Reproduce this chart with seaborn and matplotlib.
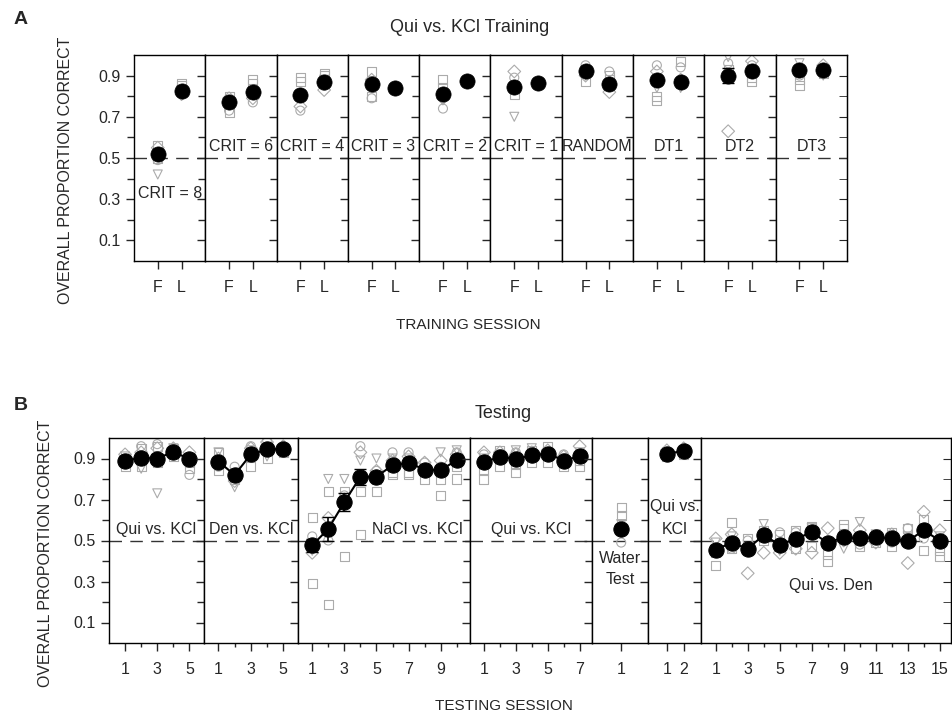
import numpy as np
import pandas as pd
import matplotlib
matplotlib.use("Agg")
import matplotlib.pyplot as plt
import seaborn as sns
from matplotlib.ticker import FixedLocator

# ---------------- Panel A: Qui vs. KCl training ----------------
A_labels = ["CRIT = 8", "CRIT = 6", "CRIT = 4", "CRIT = 3", "CRIT = 2",
            "CRIT = 1", "RANDOM", "DT1", "DT2", "DT3"]
A_ticks = ["F", "L"]
# mean proportion correct, pairs (F, L) per training stage
A_mean = [0.52, 0.825, 0.77, 0.82, 0.805, 0.87, 0.86, 0.84, 0.81, 0.875,
          0.845, 0.865, 0.92, 0.86, 0.88, 0.87, 0.90, 0.92, 0.925, 0.925]
A_err = [0.01, 0.01, 0.01, 0.01, 0.01, 0.01, 0.01, 0.0, 0.01, 0.0,
         0.01, 0.0, 0.01, 0.01, 0.01, 0.01, 0.035, 0.01, 0.01, 0.01]
nan = np.nan
# individual animals
A_sq = [0.56, 0.86, 0.80, 0.88, 0.89, 0.90, 0.92, nan, 0.88, nan,
        0.85, nan, 0.87, 0.90, 0.78, 0.86, 0.93, 0.87, 0.85, 0.91]
A_sq2 = [0.50, 0.85, 0.72, 0.86, 0.87, 0.91, 0.80, nan, 0.84, nan,
         0.81, nan, 0.93, 0.88, 0.80, 0.97, 0.89, 0.89, 0.88, 0.92]
A_di = [0.55, 0.81, 0.79, 0.79, 0.75, 0.83, 0.88, nan, 0.79, nan,
        0.92, nan, 0.90, 0.82, 0.92, 0.88, 0.63, 0.97, 0.93, 0.95]
A_tri = [0.42, 0.83, 0.77, 0.82, 0.80, 0.88, 0.84, nan, 0.78, nan,
         0.70, nan, 0.90, 0.85, 0.84, 0.84, 0.99, 0.93, 0.96, 0.90]
A_cir = [0.49, 0.82, 0.73, 0.77, 0.73, 0.85, 0.79, nan, 0.74, nan,
         0.89, nan, 0.95, 0.92, 0.95, 0.94, 0.96, 0.95, 0.90, 0.93]

# ---------------- Panel B: testing ----------------
B_labels = ["Qui vs. KCl", "Den vs. KCl", "NaCl vs. KCl", "Qui vs. KCl",
            "Water\nTest", "Qui vs.\nKCl", "Qui vs. Den"]
B_sessions = [5, 5, 10, 7, 1, 2, 15]
B_mean = [0.89, 0.903, 0.90, 0.933, 0.897,
          0.885, 0.82, 0.92, 0.944, 0.947,
          0.476, 0.557, 0.687, 0.811, 0.811, 0.867, 0.879, 0.846, 0.843, 0.892,
          0.882, 0.908, 0.898, 0.915, 0.924, 0.89, 0.911,
          0.555,
          0.924, 0.936,
          0.456, 0.489, 0.46, 0.526, 0.479, 0.508, 0.54, 0.489, 0.516, 0.511,
          0.516, 0.511, 0.497, 0.55, 0.499]
B_err = [0.015, 0.015, 0.02, 0.015, 0.015,
         0.015, 0.02, 0.015, 0.01, 0.01,
         0.03, 0.06, 0.045, 0.04, 0.02, 0.015, 0.015, 0.015, 0.02, 0.015,
         0.01, 0.01, 0.01, 0.01, 0.01, 0.01, 0.01,
         0.02,
         0.01, 0.01,
         0.02, 0.015, 0.02, 0.02, 0.015, 0.015, 0.02, 0.015, 0.015, 0.015,
         0.01, 0.01, 0.02, 0.02, 0.015]
B_sq = [0.86, 0.86, 0.88, 0.91, 0.85,
        0.84, 0.80, 0.86, 0.90, 0.93,
        0.29, 0.19, 0.42, 0.53, 0.74, 0.82, 0.82, 0.80, 0.72, 0.80,
        0.80, 0.86, 0.83, 0.88, 0.88, 0.86, 0.86,
        0.66,
        0.91, 0.92,
        0.38, 0.59, 0.45, 0.50, 0.47, 0.55, 0.57, 0.43, 0.56, 0.47,
        0.49, 0.47, 0.56, 0.45, 0.42]
B_sq2 = [0.90, 0.95, 0.96, 0.95, 0.88,
         0.93, 0.83, 0.93, 0.96, 0.95,
         0.61, 0.74, 0.74, 0.74, 0.80, 0.83, 0.83, 0.85, 0.80, 0.86,
         0.84, 0.94, 0.87, 0.94, 0.96, 0.88, 0.89,
         0.62,
         0.92, 0.93,
         0.44, 0.46, 0.51, 0.55, 0.53, 0.46, 0.47, 0.40, 0.58, 0.50,
         0.52, 0.54, 0.50, 0.60, 0.45]
B_di = [0.92, 0.93, 0.95, 0.95, 0.93,
        0.90, 0.79, 0.95, 0.98, 0.96,
        0.44, 0.61, 0.70, 0.93, 0.84, 0.89, 0.91, 0.88, 0.89, 0.92,
        0.93, 0.93, 0.92, 0.93, 0.94, 0.91, 0.96,
        0.57,
        0.94, 0.95,
        0.51, 0.53, 0.34, 0.44, 0.44, 0.46, 0.44, 0.56, 0.50, 0.55,
        0.49, 0.53, 0.39, 0.64, 0.55]
B_tri = [0.91, 0.85, 0.73, 0.95, 0.90,
         0.93, 0.76, 0.94, 0.91, 0.94,
         0.45, 0.80, 0.80, 0.89, 0.90, 0.90, 0.90, 0.85, 0.93, 0.94,
         0.90, 0.92, 0.94, 0.95, 0.93, 0.90, 0.93,
         0.58,
         0.93, 0.94,
         0.49, 0.52, 0.46, 0.58, 0.45, 0.49, 0.56, 0.49, 0.46, 0.59,
         0.53, 0.50, 0.52, 0.56, 0.52]
B_cir = [0.88, 0.96, 0.97, 0.94, 0.82,
         0.86, 0.86, 0.96, 0.99, 0.95,
         0.52, 0.50, 0.72, 0.96, 0.84, 0.93, 0.93, 0.88, 0.86, 0.93,
         0.92, 0.90, 0.93, 0.90, 0.92, 0.92, 0.92,
         0.49,
         0.91, 0.93,
         0.46, 0.46, 0.50, 0.54, 0.54, 0.54, 0.54, 0.50, 0.51, 0.48,
         0.52, 0.49, 0.56, 0.51, 0.51]

subjects = {"sq": ("s", A_sq, B_sq), "sq2": ("s", A_sq2, B_sq2),
            "di": ("D", A_di, B_di), "tri": ("v", A_tri, B_tri),
            "cir": ("o", A_cir, B_cir)}

sns.set_style("ticks")
plt.rcParams["font.family"] = ["Liberation Sans", "DejaVu Sans"]
plt.rcParams["font.size"] = 11.5

GRAY = "#ababab"
FS = 11.5


def style_segment(ax, first, last):
    ax.set_ylim(0, 1)
    ax.yaxis.set_major_locator(FixedLocator([0.1, 0.3, 0.5, 0.7, 0.9]))
    ax.yaxis.set_minor_locator(FixedLocator([0.2, 0.4, 0.6, 0.8]))
    ax.tick_params(axis="y", which="major", direction="out", length=6, width=1,
                   labelleft=first, labelsize=FS)
    ax.tick_params(axis="y", which="minor", direction="out", length=5, width=1)
    ax.tick_params(axis="x", which="major", direction="out", length=6, width=1,
                   labelsize=FS, pad=8)
    ax.tick_params(axis="x", which="minor", direction="out", length=3, width=1)
    for s in ax.spines.values():
        s.set_linewidth(1.0)
        s.set_color("black")
    ax.set_ylabel("")
    ax.set_xlabel("")
    # chance line
    ax.axhline(0.5, color="#333333", lw=1.0, ls=(0, (9, 6)), zorder=1)
    if last:
        sec = ax.secondary_yaxis("right")
        sec.yaxis.set_major_locator(FixedLocator([0.1, 0.3, 0.5, 0.7, 0.9]))
        sec.yaxis.set_minor_locator(FixedLocator([0.2, 0.4, 0.6, 0.8]))
        sec.tick_params(axis="y", which="both", direction="in", length=6,
                        labelright=False)


def draw_individuals(ax, x, idx, panel):
    for name, (m, a_vals, b_vals) in subjects.items():
        vals = a_vals if panel == "A" else b_vals
        y = [vals[i] for i in idx]
        df = pd.DataFrame({"x": x, "y": y}).dropna()
        if df.empty:
            continue
        sns.scatterplot(data=df, x="x", y="y", marker=m, s=42, ax=ax,
                        color=GRAY, linewidth=0.8, zorder=2)
        pts = ax.collections[-1]
        pts.set_facecolor("none")
        pts.set_edgecolor(GRAY)


fig = plt.figure(figsize=(9.52, 7.15), dpi=100)

# ---- panel A ----
gsA = fig.add_gridspec(1, len(A_labels), left=134 / 952, right=847 / 952,
                       top=1 - 55 / 715, bottom=1 - 261 / 715, wspace=0)
for k, lab in enumerate(A_labels):
    ax = fig.add_subplot(gsA[0, k])
    idx = [2 * k, 2 * k + 1]
    xs = [1, 2]
    draw_individuals(ax, xs, idx, "A")
    means = [A_mean[i] for i in idx]
    errs = [A_err[i] for i in idx]
    ax.errorbar(xs, means, yerr=errs, fmt="none", ecolor="black",
                elinewidth=1.2, capsize=4, zorder=3)
    sns.scatterplot(x=xs, y=means, ax=ax, color="black", s=120,
                    edgecolor="black", linewidth=0.5, zorder=4)
    ax.set_xlim(0, 3)
    ax.xaxis.set_major_locator(FixedLocator([1, 2]))
    ax.set_xticklabels(A_ticks)
    style_segment(ax, k == 0, k == len(A_labels) - 1)
    if k == 0:
        ax.text(0.05, 0.33, lab, fontsize=FS, ha="left", va="center",
                transform=ax.get_yaxis_transform(), zorder=5)
    else:
        ax.text(0.5, 0.555, lab, fontsize=FS, ha="center", va="center",
                transform=ax.get_yaxis_transform(), zorder=5)

# ---- panel B ----
B_xlim = [(0, 5.9), (0.1, 5.9), (0.1, 10.8), (0.1, 7.8), (-0.8, 2.7),
          (-0.1, 3.05), (0.1, 15.7)]
B_width = [95, 94, 172, 123, 56, 53, 250]
gsB = fig.add_gridspec(1, len(B_labels), width_ratios=B_width,
                       left=109 / 952, right=951 / 952,
                       top=1 - 438 / 715, bottom=1 - 643 / 715, wspace=0)
start = 0
for k, lab in enumerate(B_labels):
    ax = fig.add_subplot(gsB[0, k])
    n = B_sessions[k]
    idx = list(range(start, start + n))
    start += n
    xs = list(range(1, n + 1))
    draw_individuals(ax, xs, idx, "B")
    means = [B_mean[i] for i in idx]
    errs = [B_err[i] for i in idx]
    ax.errorbar(xs, means, yerr=errs, fmt="none", ecolor="black",
                elinewidth=1.2, capsize=4, zorder=3)
    sns.lineplot(x=xs, y=means, ax=ax, color="black", lw=1.5, marker="o",
                 markersize=11, markeredgecolor="black", zorder=4)
    ax.set_xlim(*B_xlim[k])
    if n == 2:
        ax.xaxis.set_major_locator(FixedLocator([1, 2]))
    else:
        ax.xaxis.set_major_locator(FixedLocator(list(range(1, n + 1, 2))))
        ax.xaxis.set_minor_locator(FixedLocator(list(range(2, n + 1, 2))))
    style_segment(ax, k == 0, k == len(B_labels) - 1)
    tr = ax.get_yaxis_transform()
    if lab == "NaCl vs. KCl":
        ax.text(0.96, 0.555, lab, fontsize=FS, ha="right", va="center",
                transform=tr, zorder=5)
    elif lab == "Water\nTest":
        ax.text(0.5, 0.36, lab, fontsize=FS, ha="center", va="center",
                transform=tr, linespacing=1.5, zorder=5)
    elif lab == "Qui vs.\nKCl":
        ax.text(0.5, 0.61, lab, fontsize=FS, ha="center", va="center",
                transform=tr, linespacing=1.6, zorder=5)
    elif lab == "Qui vs. Den":
        ax.text(0.52, 0.28, lab, fontsize=FS, ha="center", va="center",
                transform=tr, zorder=5)
    else:
        ax.text(0.5, 0.555, lab, fontsize=FS, ha="center", va="center",
                transform=tr, zorder=5)

# ---- figure texts ----
fig.text(14 / 952, 1 - 20 / 715, "A", fontsize=14, fontweight="bold",
         ha="left", va="center")
fig.text(470 / 952, 1 - 27 / 715, "Qui vs. KCl Training", fontsize=13,
         ha="center", va="center")
fig.text(66 / 952, 1 - 170 / 715, "OVERALL PROPORTION CORRECT", fontsize=11.5,
         rotation=90, ha="center", va="center")
fig.text(468 / 952, 1 - 325 / 715, "TRAINING SESSION", fontsize=11,
         ha="center", va="center")

fig.text(14 / 952, 1 - 405 / 715, "B", fontsize=14, fontweight="bold",
         ha="left", va="center")
fig.text(503 / 952, 1 - 414 / 715, "Testing", fontsize=13,
         ha="center", va="center")
fig.text(46 / 952, 1 - 553 / 715, "OVERALL PROPORTION CORRECT", fontsize=11.5,
         rotation=90, ha="center", va="center")
fig.text(504 / 952, 1 - 706 / 715, "TESTING SESSION", fontsize=11,
         ha="center", va="center")

fig.savefig("out.png", dpi=100, facecolor="white")
